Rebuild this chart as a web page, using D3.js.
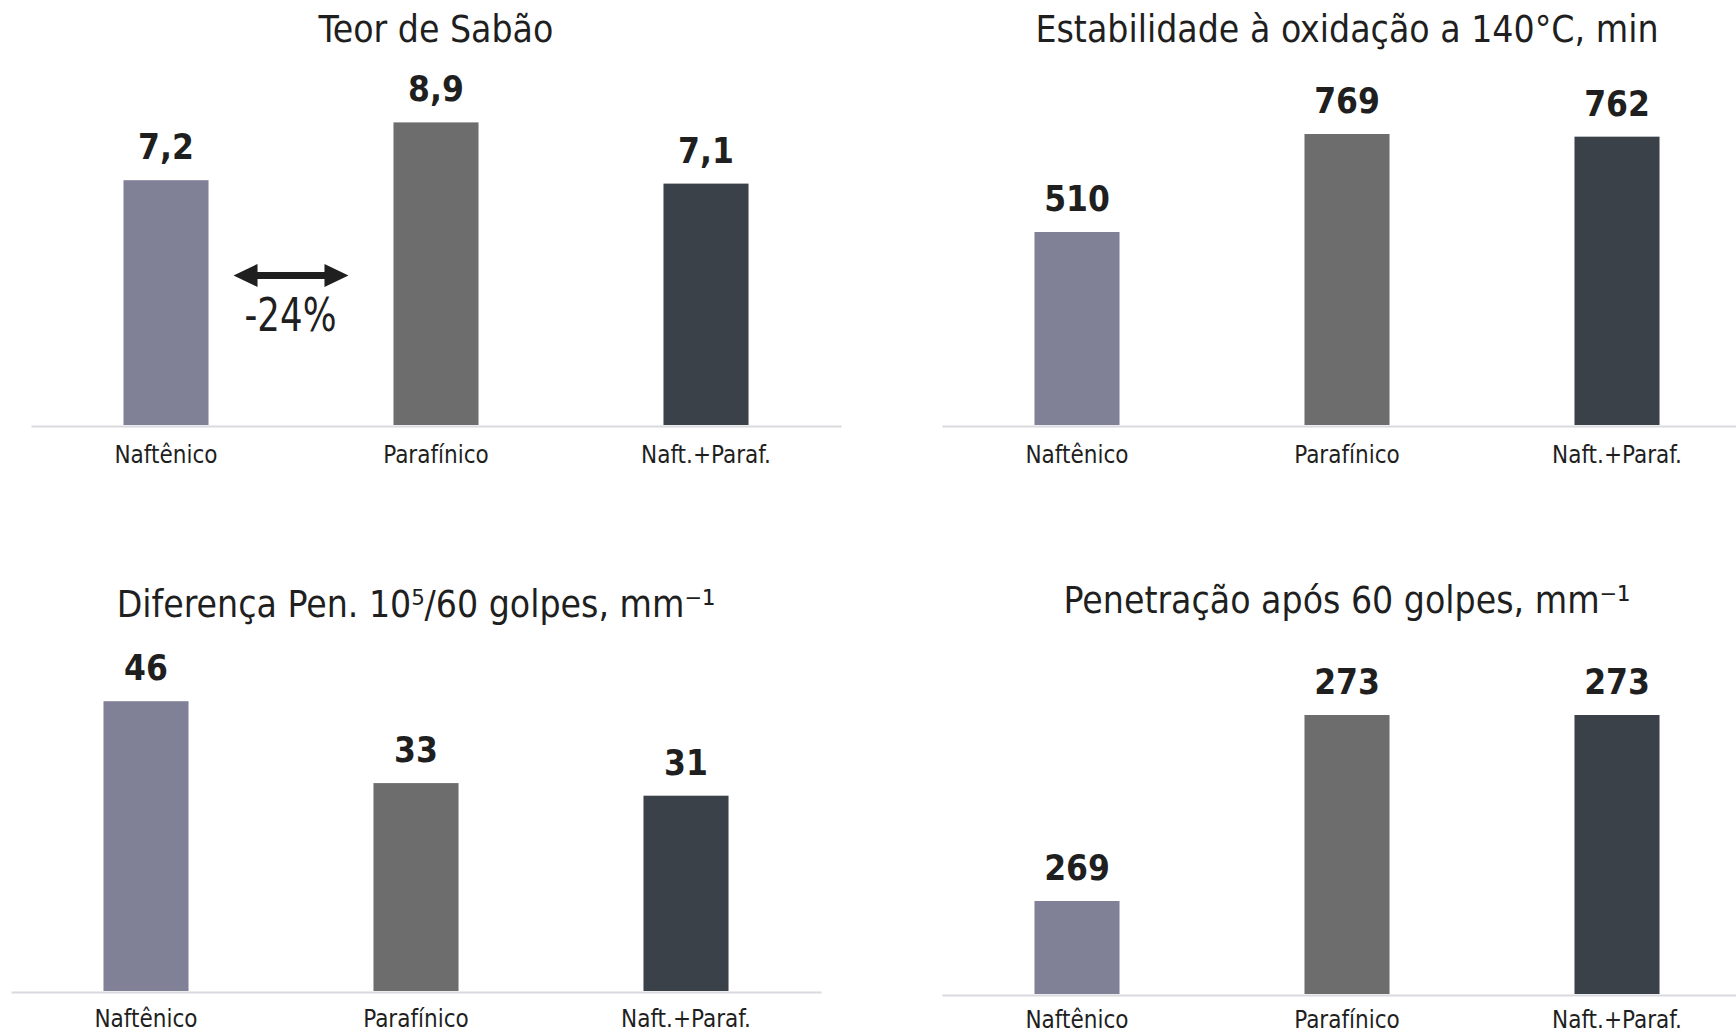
<!DOCTYPE html>
<html>
<head>
<meta charset="utf-8">
<script src="https://cdn.jsdelivr.net/npm/d3@7"></script>
<style>
  html, body { margin: 0; padding: 0; background: #ffffff; }
  svg { display: block; }
  text { font-family: "DejaVu Sans Condensed", "DejaVu Sans", sans-serif; font-stretch: condensed; fill: #1f1f1f; }
</style>
</head>
<body>
<svg id="chart" width="1736" height="1035"></svg>
<script>
// ---- data ----
const categories = ["Naftênico", "Parafínico", "Naft.+Paraf."];
const titles = [
  "Teor de Sabão",
  "Estabilidade à oxidação a 140°C, min",
  "Diferença Pen. 10⁵/60 golpes, mm⁻¹",
  "Penetração após 60 golpes, mm⁻¹"
];
const soapContent = [7.2, 8.9, 7.1];
const oxidationStability = [510, 769, 762];
const penetrationDiff = [46, 33, 31];
const penetration60 = [269, 273, 273];
const soapDiffLabel = "-24%";
const barColors = ["#808196", "#6d6d6d", "#3b4149"];

// ---- layout ----
const svg = d3.select("#chart");
const panels = [
  { values: soapContent, title: titles[0], xr: [31, 841], base: 425, dom: [0, 10], pxu: 34, titleY: 42, decimals: 1, pad: 20 },
  { values: oxidationStability, title: titles[1], xr: [942, 1752], base: 425, dom: [0, 1000], pxu: 0.3784, titleY: 42, decimals: 0, pad: 20 },
  { values: penetrationDiff, title: titles[2], xr: [11, 821], base: 991, dom: [0, 60], pxu: 6.30, titleY: 617, decimals: 0, pad: 18 },
  { values: penetration60, title: titles[3], xr: [942, 1752], base: 994, dom: [267, 275], pxu: 46.5, titleY: 613, decimals: 0, pad: 16 }
];

const fmt = (v, d) => d3.format("." + d + "f")(v).replace(".", ",");

panels.forEach((p, pi) => {
  const g = svg.append("g");
  const x = d3.scaleBand().domain(categories).range(p.xr).paddingInner(0.685).paddingOuter(0.3425);
  const y = d3.scaleLinear().domain(p.dom).range([p.base, p.base - (p.dom[1] - p.dom[0]) * p.pxu]);
  p.x = x; p.y = y;

  // title
  g.append("text")
    .attr("x", (p.xr[0] + p.xr[1]) / 2)
    .attr("y", p.titleY)
    .attr("text-anchor", "middle")
    .style("font-size", "37px")
    .text(p.title);

  // bars
  g.selectAll("rect.bar").data(p.values).join("rect")
    .attr("class", "bar")
    .attr("x", (d, i) => x(categories[i]))
    .attr("width", x.bandwidth())
    .attr("y", d => y(d))
    .attr("height", d => y(p.dom[0]) - y(d))
    .attr("fill", (d, i) => barColors[i]);

  // value labels
  g.selectAll("text.val").data(p.values).join("text")
    .attr("class", "val")
    .attr("x", (d, i) => x(categories[i]) + x.bandwidth() / 2)
    .attr("y", d => y(d) - 21)
    .attr("text-anchor", "middle")
    .style("font-size", "35px")
    .style("font-weight", "bold")
    .text(d => fmt(d, p.decimals));

  // axis
  const ax = g.append("g")
    .attr("transform", `translate(0,${p.base + 1})`)
    .call(d3.axisBottom(x).tickSize(0).tickSizeOuter(0).tickPadding(p.pad));
  ax.select(".domain").attr("stroke", "#d9d9e0").attr("stroke-width", 2);
  ax.selectAll(".tick text")
    .attr("fill", "#1f1f1f")
    .style("font-size", "24px")
    .style("font-family", "'DejaVu Sans Condensed', 'DejaVu Sans', sans-serif");
});

// annotation arrow in panel 1
(function () {
  const p = panels[0];
  const x1 = p.x(categories[0]) + p.x.bandwidth() + 25;
  const x2 = p.x(categories[1]) - 45;
  const yc = p.y(4.4);
  const hl = 24, hh = 11.5, st = 3.5;
  const path = d3.path();
  path.moveTo(x1, yc);
  path.lineTo(x1 + hl, yc - hh);
  path.lineTo(x1 + hl, yc - st);
  path.lineTo(x2 - hl, yc - st);
  path.lineTo(x2 - hl, yc - hh);
  path.lineTo(x2, yc);
  path.lineTo(x2 - hl, yc + hh);
  path.lineTo(x2 - hl, yc + st);
  path.lineTo(x1 + hl, yc + st);
  path.lineTo(x1 + hl, yc + hh);
  path.closePath();
  svg.append("path").attr("d", path.toString()).attr("fill", "#1f1f1f");
  svg.append("text")
    .attr("x", (x1 + x2) / 2 - 0.5)
    .attr("y", yc + 56)
    .attr("text-anchor", "middle")
    .attr("textLength", 92)
    .attr("lengthAdjust", "spacingAndGlyphs")
    .style("font-size", "46px")
    .text(soapDiffLabel);
})();
</script>
</body>
</html>
